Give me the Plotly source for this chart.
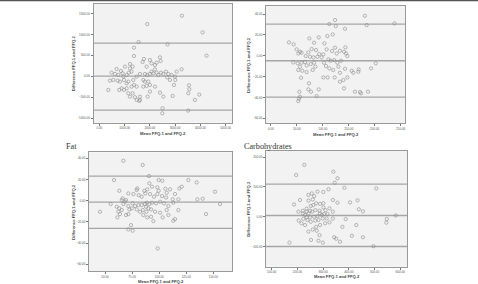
import plotly.graph_objects as go

# ---------------- Energy (top-left) ----------------
energy_mean = [3271,1899,4089,1556,2704,1372,4247,1372,2005,1767,1715,1213,2401,2269,2427,2203,2071,1873,3258,3060,
               2862,2994,2796,2955,3007,3548,3957,3561,3522,3786,3522,2506,2493,2902,2532,2401,2005,1913,1609,1609,
               1477,1583,1411,1319,1213,1148,1082,976,884,791,725,422,356,620,857,686,923,950,1082,1174,
               1279,1345,1477,1609,1741,1807,1899,2005,2071,2137,2203,2269,2335,2440,2532,2638,2691,2730,1873,1741,
               2005,2203,1939,1807,1148,1082,976,818,1016,1213,1319,554,488,752,1477,1372,1279]
energy_diff = [1449,1250,1051,820,764,685,494,486,390,414,342,295,454,326,366,271,310,231,167,111,
               32,-8,-88,-207,-88,-215,-438,-310,-406,-565,-820,-764,-884,-470,-486,-390,-366,-486,-486,-565,
               -565,-589,-501,-406,-486,-406,-287,-326,-287,-326,-103,-103,-326,56,127,175,72,-8,32,88,
               111,-88,-8,56,-88,56,32,56,111,72,167,88,32,88,56,111,-24,56,-231,-247,
               -207,-247,-127,-127,-127,-167,-88,-127,231,191,231,-88,88,32,-247,-207,-247]
energy_lines = [793, 5, -810]

# ---------------- Protein (top-right) ----------------
protein_mean = [181,123.5,112.5,184.5,238,125,142.7,119,108.7,92,74,34.7,43.7,83,103,123.5,143.4,49.5,56,52.7,
                59,72,78.4,86.8,93.2,101,107.4,117.7,126.7,133,140.8,144.7,147.2,66.9,75.2,81.7,89.4,97.7,110.6,115,
                122,128,135,43,51.4,59,65.6,68.8,76.5,83,85.5,80.4,56,52.7,60.4,68.8,102.2,106,112.5,120,
                130,133,142.7,155.6,168.5,169,193,202,158.8,147.2,139.5,122.8,109.3,101,92,73.3,72,77.2,88,54.7,
                56,54,52.7,57.9,140.8,133,162,171.7,173.6,187]
protein_diff = [38.3,34.2,30.4,29.4,31,28.4,25.9,20.4,18.9,17.6,16.6,12.8,10.9,12.5,11.8,7.7,8,6.1,3.8,2.2,
                2.9,3.2,6.4,5.4,1.6,1.3,6.1,4.5,2.2,4.8,3.8,2.2,-0.3,-0.3,-1,-1.6,-1,-1.6,-3.5,-4.8,
                -4.2,-6.7,-4.8,-6.4,-7.3,-6.7,-6.1,-9.3,-8,-6.7,-10.5,-13.7,-10.5,-13.7,-14.4,-15.7,-6.7,-9.9,-12.1,-13.7,
                -10.5,-16.3,-12.5,-14.4,-15.3,-13.1,-12.1,-7.3,-16.3,-20.8,-23.3,-20.8,-20.8,-20.8,-32.3,-26.5,-32.3,-34.5,-38.7,-34.5,
                -39.3,-41.2,-43.5,-21.1,-31.3,-24.9,-34.5,-34.8,-36.1,-34.5]
protein_lines = [30.4, -4.8, -39.7]

# ---------------- Fat (bottom-left) ----------------
fat_mean = [66.9,84.8,58.3,90.6,99.5,102.9,90.9,93.4,134.6,126.9,120.8,118.6,110,105.7,98.3,99.5,79.2,79.8,86.3,89,
            106.9,114.6,63.2,71.5,76.2,81.1,83.8,87.2,91.5,95.2,98.3,102.6,106.3,112.5,117.7,135.2,140.1,151.5,156.2,143.2,
            117.7,114.6,113,108.5,106.9,100.8,103.2,94.6,92.5,89,85.4,82.3,79.2,80.8,83.8,86.9,88.5,90.9,93.4,97.1,
            100.8,104.5,108.5,113,87.8,90,92.5,96.2,88.2,84.8,74.6,71.5,68.5,69.4,65.4,66.3,66.9,60.8,63.2,65.4,
            62.3,63.8,61.4,71.5,72.5,55.2,45.4,74,71.5,75.5,98.6,69.4,77.7,75.5]
fat_diff = [37.7,33.7,19.5,23.3,19.5,18.9,16.4,13.2,17.3,19.5,13.2,11.6,10.7,11.3,12.6,9.4,10.1,11.6,9.4,10.7,
            7.5,6.3,9.4,6.9,6.3,5.3,3.8,6.9,6.3,3.8,6.3,4.4,3.1,1.3,1.3,1.3,1.9,8.5,-3.1,-12.6,
            -8.8,-17.3,-18.9,-13.5,-8.8,-11.3,-15.7,-19.2,-15.1,-15.7,-13.5,-10.4,-8.2,-4.1,-4.1,-3.1,-1.9,-3.1,-1.9,-2.5,
            -0.9,-2.5,-5,-1.9,-5.7,-7.2,-8.2,-10.4,-10.4,-8.8,-7.2,-5,-0.9,0.6,0.6,2.2,-3.1,-5.7,-7.2,-8.8,
            -10.4,-12.6,-15.7,-12.6,-8.2,-3.1,-10.4,-23,-27,-28.3,-45,-13.5,-5,-2.5]
fat_lines = [23.3, -1.3, -26.0]

# ---------------- Carbohydrates (bottom-right) ----------------
carb_mean = [227,195,340,356,345,383,507,321,278,301,265,260,243,210,187,338,356,405,434,439,
             455,288,273,262,252,236,221,204,301,309,325,338,317,304,288,278,265,249,236,223,
             239,252,269,282,299,314,338,325,308,288,273,260,275,286,243,230,205,216,253,282,
             299,343,351,366,388,375,412,429,455,496,546,548,583,169,230,243,257,270,286,295,
             221,236,249,301,243,256]
carb_diff = [174,140,151,129,114,97,95,92,84,83,69,58,54,56,41,56,47,48,55,25,
             18,43,45,39,36,27,20,17,31,22,28,17,9,9,11,2,0,-2,-2,-7,
             -11,-17,-13,-11,-6,-6,-6,-19,-22,-28,-34,-43,-47,-62,-50,-28,-13,-22,-78,-81,
             -87,-69,-74,-84,-8,-34,-64,-28,-69,-99,-20,-8,4,-87,6,11,17,22,20,6,
             11,17,20,45,73,78]
carb_lines = [109, 4, -100]

panels = [
    dict(x=energy_mean, y=energy_diff, lines=energy_lines,
         xr=[-230, 5265], yr=[-1110, 1730],
         xt=[0, 1000, 2000, 3000, 4000, 5000], yt=[-1000, -500, 0, 500, 1000, 1500]),
    dict(x=protein_mean, y=protein_diff, lines=protein_lines,
         xr=[-9.6, 258.4], yr=[-64.8, 47.7],
         xt=[0, 50, 100, 150, 200, 250], yt=[-60, -40, -20, 0, 20, 40]),
    dict(x=fat_mean, y=fat_diff, lines=fat_lines,
         xr=[35.2, 167.2], yr=[-66.3, 45.7],
         xt=[50, 75, 100, 125, 150], yt=[-60, -40, -20, 0, 20, 40]),
    dict(x=carb_mean, y=carb_diff, lines=carb_lines,
         xr=[77.8, 626.5], yr=[-167.8, 220.5],
         xt=[100, 200, 300, 400, 500, 600], yt=[-100, 0, 100, 200]),
]

W, H = 478, 284
# plot boxes in pixels: left, right, top, bottom
boxes = [(93.5, 232.3, 4, 122.7), (266, 405, 6, 123.3), (89, 232, 152.3, 271), (266, 407, 151, 266.7)]
ytitle_x = [73, 248.3, 73.3, 249]
xtitle_y = [133.5, 134, 281, 276.5]

x_title = "Mean FFQ.1 and FFQ.2"
y_title = "Difference FFQ.1 and FFQ.2"

fig = go.Figure()
layout = dict(width=W, height=H, margin=dict(l=0, r=0, t=0, b=0),
              paper_bgcolor="white", plot_bgcolor="#f2f2f2", showlegend=False,
              font=dict(family="Liberation Sans, Arial, sans-serif", color="#333"))
shapes = []
annotations = []
for i, (p, b) in enumerate(zip(panels, boxes)):
    n = "" if i == 0 else str(i + 1)
    xa, ya = "x" + n, "y" + n
    l, r, t, bt = b
    common = dict(showgrid=False, zeroline=False, showline=True, mirror=True, linecolor="#999",
                  linewidth=1, ticks="outside", ticklen=2, tickwidth=0.6, tickcolor="#777",
                  tickformat=".2f", tickfont=dict(size=3, color="#555"))
    layout["xaxis" + n] = dict(common, domain=[l / W, r / W], range=p["xr"], tickvals=p["xt"],
                               anchor=ya)
    layout["yaxis" + n] = dict(common, domain=[1 - bt / H, 1 - t / H], range=p["yr"], tickvals=p["yt"],
                               anchor=xa)
    for v in p["lines"]:
        shapes.append(dict(type="line", xref=xa + " domain", yref=ya, x0=0, x1=1, y0=v, y1=v,
                           line=dict(color="#a6a6a6", width=1.3), layer="below"))
    fig.add_trace(go.Scatter(x=p["x"], y=p["y"], mode="markers", xaxis=xa, yaxis=ya,
                             marker=dict(symbol="circle-open", size=3.3, color="#8a8a8a",
                                         line=dict(width=0.6, color="#8a8a8a"))))
    annotations.append(dict(text="<b>" + y_title + "</b>", xref="paper", yref="paper",
                            x=ytitle_x[i] / W, y=1 - (t + bt) / 2 / H, textangle=-90,
                            showarrow=False, font=dict(size=4.2, color="#444"),
                            xanchor="center", yanchor="middle"))
    annotations.append(dict(text="<b>" + x_title + "</b>", xref="paper", yref="paper",
                            x=(l + r) / 2 / W, y=1 - xtitle_y[i] / H, showarrow=False,
                            font=dict(size=4.2, color="#444"), xanchor="center", yanchor="middle"))

serif = dict(family="Liberation Serif, Times New Roman, serif", size=8.2, color="#333")
annotations.append(dict(text="Fat", xref="paper", yref="paper", x=64 / W, y=1 - 146 / H,
                        showarrow=False, xanchor="left", yanchor="middle", font=serif))
annotations.append(dict(text="Carbohydrates", xref="paper", yref="paper", x=242 / W, y=1 - 146 / H,
                        showarrow=False, xanchor="left", yanchor="middle", font=serif))
shapes.append(dict(type="line", xref="paper", yref="paper", x0=0, x1=1, y0=1 - 0.5 / H, y1=1 - 0.5 / H,
                   line=dict(color="#555", width=1.5)))

layout["shapes"] = shapes
layout["annotations"] = annotations
fig.update_layout(**layout)
fig.write_html("out.html")
